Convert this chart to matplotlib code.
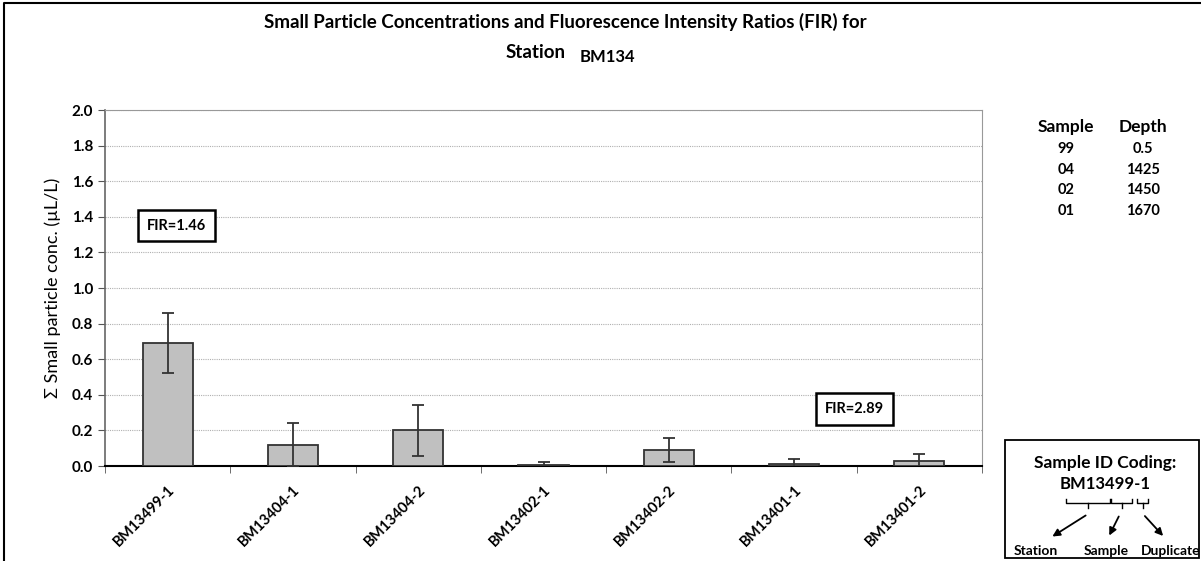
import matplotlib.pyplot as plt
from matplotlib.patches import Rectangle

samples = ["BM13499-1", "BM13404-1", "BM13404-2", "BM13402-1",
           "BM13402-2", "BM13401-1", "BM13401-2"]
conc = [0.69, 0.12, 0.20, 0.005, 0.09, 0.012, 0.03]
err = [0.17, 0.12, 0.145, 0.015, 0.068, 0.028, 0.04]

fir_labels = ["FIR=1.46", "FIR=2.89"]
fir_pos = [(0.07, 1.35), (5.48, 0.32)]

table_sample = ["99", "04", "02", "01"]
table_depth = ["0.5", "1425", "1450", "1670"]

plt.rcParams['font.family'] = ['Lato', 'DejaVu Sans']

fig = plt.figure(figsize=(12.01, 5.61), dpi=100)
ax = fig.add_axes([0.0874, 0.1693, 0.7303, 0.6346])

x = list(range(len(samples)))
ax.bar(x, conc, width=0.4, color="#c0c0c0", edgecolor="#333333", linewidth=1.3,
       yerr=err, error_kw=dict(ecolor="#333333", elinewidth=1.3, capsize=4, capthick=1.3),
       zorder=3)

ax.set_xlim(-0.5, len(samples) - 0.5)
ax.set_ylim(0, 2.0)
ax.set_yticks([i * 0.2 for i in range(11)])
ax.set_yticklabels(["%.1f" % (i * 0.2) for i in range(11)], fontweight="bold", fontsize=11)
ax.yaxis.grid(True, linestyle=(0, (1, 1)), color="#b0b0b0", linewidth=0.8, zorder=0)
ax.set_axisbelow(True)

ax.set_xticks(x)
ax.set_xticklabels(samples, rotation=45, ha="right", rotation_mode="anchor",
                   fontweight="bold", fontsize=10.5)
ax.set_xticks([i + 0.5 for i in range(-1, len(samples))], minor=True)
ax.tick_params(axis="x", which="major", length=0, pad=12)
ax.tick_params(axis="x", which="minor", length=5, color="#555555", direction="out")
ax.tick_params(axis="y", length=5, color="#555555", direction="out")

for s in ["top", "right"]:
    ax.spines[s].set_color("#999999")
ax.spines["left"].set_color("#666666")
ax.spines["left"].set_linewidth(1.2)
ax.spines["bottom"].set_color("#000000")
ax.spines["bottom"].set_linewidth(1.5)

ax.set_ylabel("\u03a3 Small particle conc. (\u00b5L/L)", fontsize=13, labelpad=8)

for lab, (fx, fy) in zip(fir_labels, fir_pos):
    ax.text(fx, fy, lab, ha="center", va="center", fontsize=10.5, fontweight="bold",
            bbox=dict(boxstyle="square,pad=0.6", facecolor="white", edgecolor="black",
                      linewidth=1.8), zorder=5)

# overlay in pixel coordinates for the title, table and ID legend
ov = fig.add_axes([0, 0, 1, 1], zorder=-1)
ov.set_xlim(0, 1201)
ov.set_ylim(561, 0)
ov.axis("off")

ov.plot([4, 4, 1201], [561, 3, 3], color="black", linewidth=1.5)

ov.text(565, 22, "Small Particle Concentrations and Fluorescence Intensity Ratios (FIR) for",
        ha="center", va="center", fontsize=13.5, fontweight="bold")
ov.text(566, 52, "Station", ha="right", va="center", fontsize=13.5, fontweight="bold")
ov.text(580, 57, "BM134", ha="left", va="center", fontsize=12, fontweight="bold")

ov.text(1066, 127, "Sample", ha="center", va="center", fontsize=12.5, fontweight="bold")
ov.text(1143, 127, "Depth", ha="center", va="center", fontsize=12.5, fontweight="bold")
for i, (s, d) in enumerate(zip(table_sample, table_depth)):
    yy = 149 + i * 20.7
    ov.text(1066, yy, s, ha="center", va="center", fontsize=10.5, fontweight="bold")
    ov.text(1143, yy, d, ha="center", va="center", fontsize=10.5, fontweight="bold")

ov.add_patch(Rectangle((1005, 440), 194, 118, facecolor="white", edgecolor="black",
                       linewidth=1.3))
ov.text(1105, 463, "Sample ID Coding:", ha="center", va="center", fontsize=12.5, fontweight="bold")
ov.text(1105, 484, "BM13499-1", ha="center", va="center", fontsize=12, fontweight="bold")
# brackets under the code
for x0, x1 in [(1066, 1110), (1111, 1132), (1137, 1148)]:
    ov.plot([x0, x0, x1, x1], [499, 503, 503, 499], color="black", linewidth=1)
    xm = (x0 + x1) / 2
    ov.plot([xm, xm], [503, 508], color="black", linewidth=1)
for (x0, y0), (x1, y1) in [((1088, 514), (1050, 538)), ((1120, 514), (1108, 538)),
                           ((1143, 514), (1165, 538))]:
    ov.annotate("", xy=(x1, y1), xytext=(x0, y0),
                arrowprops=dict(arrowstyle="-|>", color="black", lw=1.3, mutation_scale=11))
ov.text(1036, 551, "Station", ha="center", va="center", fontsize=10, fontweight="bold")
ov.text(1106, 551, "Sample", ha="center", va="center", fontsize=10, fontweight="bold")
ov.text(1171, 551, "Duplicate", ha="center", va="center", fontsize=10, fontweight="bold")

fig.savefig("out.png", dpi=100)
